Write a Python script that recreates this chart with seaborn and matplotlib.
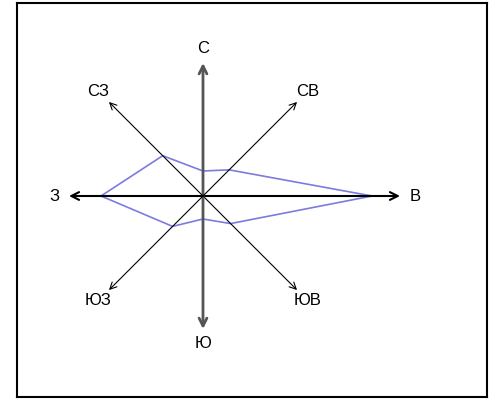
import numpy as np
import pandas as pd
import matplotlib
matplotlib.use('Agg')
import matplotlib.pyplot as plt
import seaborn as sns

# Wind rose data (relative frequency by direction)
directions = ['С', 'СВ', 'В', 'ЮВ', 'Ю', 'ЮЗ', 'З', 'СЗ']
angles_deg = [0, 45, 90, 135, 180, 225, 270, 315]
values = [25, 37, 169, 39, 23, 43, 102, 57]
arrow_len = [133, 133, 197, 133, 133, 133, 134, 133]

sns.set_style('white')
plt.rcParams['font.family'] = ['Liberation Sans', 'DejaVu Sans']
plt.rcParams['text.color'] = 'black'

fig = plt.figure(figsize=(4.95, 3.99), dpi=100)
ax = fig.add_axes([17 / 495, 2 / 399, 470 / 495, 394 / 399])

theta = np.deg2rad(angles_deg)
rose = pd.DataFrame({
    'dir': directions,
    'x': np.array(values) * np.sin(theta),
    'y': np.array(values) * np.cos(theta),
})
closed = pd.concat([rose, rose.iloc[[0]]], ignore_index=True)

# Direction arrows
for d, a, L in zip(directions, theta, arrow_len):
    tx, ty = L * np.sin(a), L * np.cos(a)
    main = d in ('С', 'Ю', 'В', 'З')
    color = '#555555' if d in ('С', 'Ю') else 'black'
    lw = 2.0 if d in ('С', 'Ю') else (1.5 if main else 0.8)
    ax.annotate('', xy=(tx, ty), xytext=(0, 0),
                arrowprops=dict(arrowstyle='->', color=color, lw=lw,
                                shrinkA=0, shrinkB=0,
                                mutation_scale=14 if main else 12))
    lab = L + 15
    ax.text(lab * np.sin(a), lab * np.cos(a), d, fontsize=12,
            ha='center', va='center', color='black')

sns.lineplot(data=closed, x='x', y='y', sort=False, ax=ax,
             color='#7b7be0', linewidth=1.2, estimator=None)

ax.set_xlim(-186, 284)
ax.set_ylim(-201, 193)
ax.set_xticks([])
ax.set_yticks([])
ax.set_xlabel('')
ax.set_ylabel('')
for s in ax.spines.values():
    s.set_visible(True)
    s.set_color('black')
    s.set_linewidth(1.5)

fig.savefig('out.png', dpi=100)
